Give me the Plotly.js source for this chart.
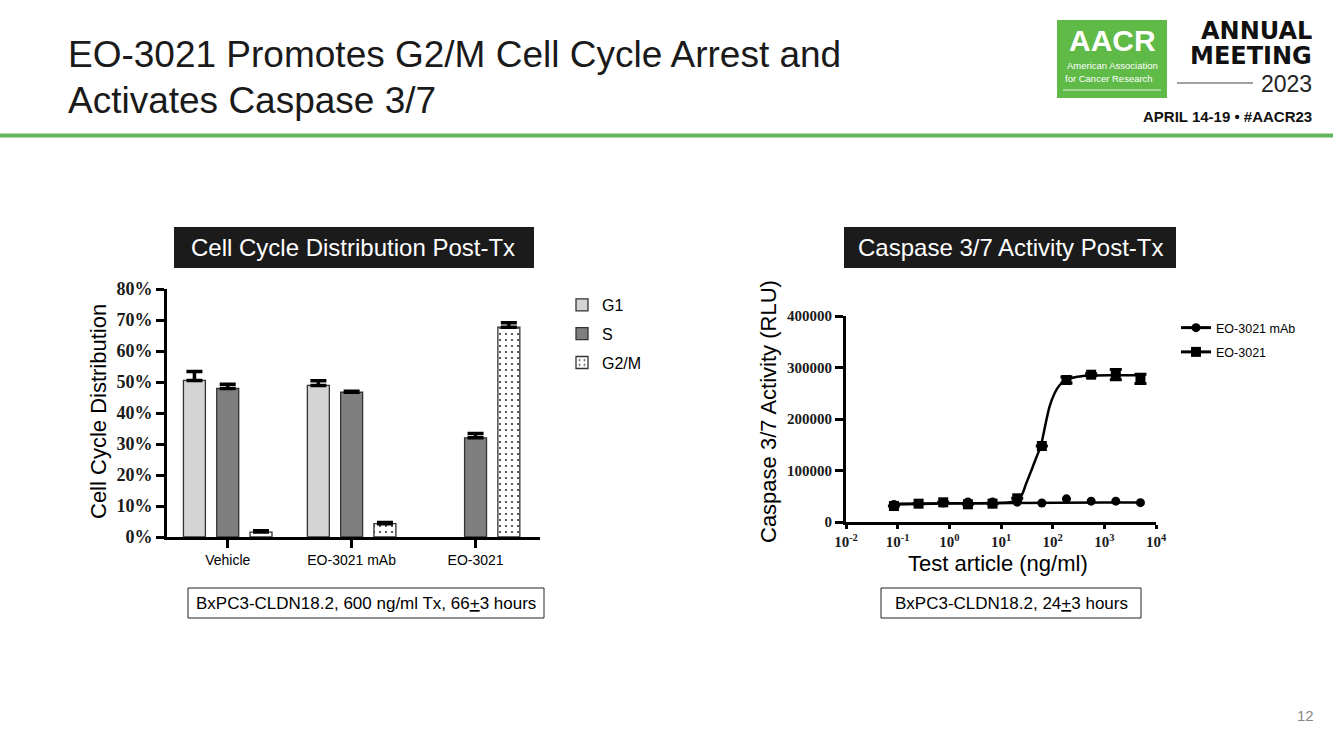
<!DOCTYPE html>
<html>
<head>
<meta charset="utf-8">
<script src="https://cdn.plot.ly/plotly-3.0.1.min.js"></script>
<style>html,body{margin:0;padding:0;background:#fff;}#chart{width:1333px;height:749px;}</style>
</head>
<body>
<div id="chart"></div>
<script>
// ---------- Data: cell cycle distribution (%) ----------
const groups = ['Vehicle', 'EO-3021 mAb', 'EO-3021'];
const g1Values = [50.5, 48.9, null];
const g1Errors = [2.9, 1.5, 0];
const sValues = [47.9, 46.7, 32.0];
const sErrors = [1.4, 0.3, 1.4];
const g2mValues = [1.6, 4.3, 67.7];
const g2mErrors = [0.4, 0.4, 1.4];

// ---------- Data: caspase 3/7 activity (RLU) ----------
const conc = [0.0847, 0.254, 0.762, 2.29, 6.86, 20.6, 61.7, 185, 556, 1667, 5000];
const mAbRLU = [34000, 35500, 37000, 39000, 39000, 38500, 37000, 45000, 40500, 40500, 37500];
const eoRLU = [31000, 35600, 38200, 34300, 35600, 46000, 147600, 275700, 286000, 286000, 277700];
const eoErr = [0, 0, 0, 0, 0, 0, 0, 6000, 2000, 10000, 9000];
// fitted curves
const mAbFitX = [0.0847, 1, 10, 100, 1000, 5000];
const mAbFitY = [35500, 36500, 37000, 37500, 38000, 38000];
const eoFitX = [0.0847, 0.254, 0.762, 2.29, 6.86, 15, 21, 26, 30, 39, 49, 59, 71, 87, 109, 137, 185, 300, 556, 1667, 5000];
const eoFitY = [34000, 35000, 36000, 36500, 37000, 38500, 42000, 55000, 72000, 101000, 127000, 148000, 185000, 224000, 250000, 266000, 276000, 282000, 284500, 285000, 285000];
const logTickVals = [0.01, 0.1, 1, 10, 100, 1000, 10000];
const logTickText = ['10<sup>-2</sup>', '10<sup>-1</sup>', '10<sup>0</sup>', '10<sup>1</sup>', '10<sup>2</sup>', '10<sup>3</sup>', '10<sup>4</sup>'];

// ---------- helpers (page pixels -> paper) ----------
const W = 1333, H = 749;
const X = p => p / W;
const Y = p => 1 - p / H;

const SANS = 'Liberation Sans, Arial, sans-serif';
const SERIF = 'Liberation Serif, Times New Roman, serif';
const barLine = {color: '#333333', width: 1.3};
const errStyle = a => ({type: 'data', array: a, arrayminus: a.map(() => 0), symmetric: false, color: '#000', thickness: 3.5, width: 8});

const traces = [
  {type: 'bar', name: 'G1', x: groups, y: g1Values, xaxis: 'x', yaxis: 'y', legend: 'legend', legendgroup: 'a',
   marker: {color: '#d4d4d4', line: barLine}, error_y: errStyle(g1Errors), hoverinfo: 'y'},
  {type: 'bar', name: 'S', x: groups, y: sValues, xaxis: 'x', yaxis: 'y', legend: 'legend', legendgroup: 'b',
   marker: {color: '#7f7f7f', line: barLine}, error_y: errStyle(sErrors), hoverinfo: 'y'},
  {type: 'bar', name: 'G2/M', x: groups, y: g2mValues, xaxis: 'x', yaxis: 'y', legend: 'legend', legendgroup: 'c',
   marker: {color: '#ffffff', line: barLine, pattern: {shape: '.', fgcolor: '#333', bgcolor: '#fff', size: 6, solidity: 0.1}},
   error_y: errStyle(g2mErrors), hoverinfo: 'y'},

  // caspase fits
  {type: 'scatter', mode: 'lines', x: mAbFitX, y: mAbFitY, xaxis: 'x2', yaxis: 'y2', showlegend: false,
   line: {color: '#000', width: 2.5}},
  {type: 'scatter', mode: 'lines', x: eoFitX, y: eoFitY, xaxis: 'x2', yaxis: 'y2', showlegend: false,
   line: {color: '#000', width: 2.5, shape: 'spline', smoothing: 0.8}},
  // caspase points
  {type: 'scatter', mode: 'markers', x: conc, y: mAbRLU, xaxis: 'x2', yaxis: 'y2', showlegend: false,
   marker: {symbol: 'circle', size: 9, color: '#000'}},
  {type: 'scatter', mode: 'markers', x: conc, y: eoRLU, xaxis: 'x2', yaxis: 'y2', showlegend: false,
   marker: {symbol: 'square', size: 10, color: '#000'},
   error_y: {type: 'data', array: eoErr, color: '#000', thickness: 3, width: 6}},
  // legend entries
  {type: 'scatter', mode: 'lines+markers', name: 'EO-3021 mAb', x: [null], y: [null], xaxis: 'x2', yaxis: 'y2',
   legend: 'legend2', legendgroup: 'm', line: {color: '#000', width: 3}, marker: {symbol: 'circle', size: 9, color: '#000'}},
  {type: 'scatter', mode: 'lines+markers', name: 'EO-3021', x: [null], y: [null], xaxis: 'x2', yaxis: 'y2',
   legend: 'legend2', legendgroup: 'e', line: {color: '#000', width: 3}, marker: {symbol: 'square', size: 10, color: '#000'}}
];

const axisCommon = {showline: true, linecolor: '#000', linewidth: 3, ticks: 'outside', tickcolor: '#000',
  tickwidth: 3, showgrid: false, zeroline: false, fixedrange: true};

function note(text, x, y, font, extra) {
  return Object.assign({text: text, x: X(x), y: Y(y), xref: 'paper', yref: 'paper', xanchor: 'center',
    yanchor: 'middle', showarrow: false, font: font}, extra || {});
}

const annotations = [
  // header title
  note('EO-3021 Promotes G2/M Cell Cycle Arrest and', 66, 55, {family: SANS, size: 37, color: '#1a1a1a'}, {xanchor: 'left'}),
  note('Activates Caspase 3/7', 66, 100, {family: SANS, size: 37, color: '#1a1a1a'}, {xanchor: 'left'}),
  // panel labels
  note('Cell Cycle Distribution Post-Tx', 353, 248, {family: SANS, size: 24, color: '#fff'}),
  note('Caspase 3/7 Activity Post-Tx', 1010, 248, {family: SANS, size: 24, color: '#fff'}),
  // axis titles
  note('Cell Cycle Distribution', 98, 412, {family: SANS, size: 22, color: '#000'}, {textangle: -90}),
  note('Caspase 3/7 Activity (RLU)', 768, 412, {family: SANS, size: 22, color: '#000'}, {textangle: -90}),
  note('Test article (ng/ml)', 998, 563, {family: SANS, size: 22, color: '#000'}),
  // condition boxes
  note('BxPC3-CLDN18.2, 600 ng/ml Tx, 66<u>+</u>3 hours', 366, 603, {family: SANS, size: 17, color: '#000'}),
  note('BxPC3-CLDN18.2, 24<u>+</u>3 hours', 1011, 603, {family: SANS, size: 17, color: '#000'}),
  // logo
  note('<b>AACR</b>', 1112, 41, {family: SANS, size: 30, color: '#fff'}),
  note('American Association', 1112, 66, {family: SANS, size: 9.5, color: '#fff'}),
  note('for Cancer Research', 1109, 78, {family: SANS, size: 9.5, color: '#fff'}),
  note('<b>ANNUAL</b>', 1314, 31, {family: 'DejaVu Sans, sans-serif', size: 24, color: '#111'}, {xanchor: 'right'}),
  note('<b>MEETING</b>', 1314, 56, {family: 'DejaVu Sans, sans-serif', size: 24, color: '#111'}, {xanchor: 'right'}),
  note('2023', 1314, 84, {family: SANS, size: 23, color: '#222'}, {xanchor: 'right'}),
  note('<b>APRIL 14-19 • #AACR23</b>', 1314, 117, {family: SANS, size: 15, color: '#111'}, {xanchor: 'right'}),
  // page number
  note('12', 1305, 715, {family: SANS, size: 15, color: '#888'})
];

const shapes = [
  {type: 'line', xref: 'paper', yref: 'paper', x0: 0, x1: 1, y0: Y(135.5), y1: Y(135.5), line: {color: '#62b55a', width: 4}},
  {type: 'rect', xref: 'paper', yref: 'paper', x0: X(174), x1: X(534), y0: Y(227), y1: Y(268), fillcolor: '#1b1b1b', line: {width: 0}, layer: 'below'},
  {type: 'rect', xref: 'paper', yref: 'paper', x0: X(844), x1: X(1176), y0: Y(227), y1: Y(268), fillcolor: '#1b1b1b', line: {width: 0}, layer: 'below'},
  {type: 'rect', xref: 'paper', yref: 'paper', x0: X(188), x1: X(544), y0: Y(588), y1: Y(618), fillcolor: 'rgba(0,0,0,0)', line: {color: '#222', width: 1}},
  {type: 'rect', xref: 'paper', yref: 'paper', x0: X(881), x1: X(1141), y0: Y(588), y1: Y(618), fillcolor: 'rgba(0,0,0,0)', line: {color: '#222', width: 1}},
  {type: 'rect', xref: 'paper', yref: 'paper', x0: X(1057), x1: X(1167), y0: Y(20), y1: Y(98), fillcolor: '#5fba47', line: {width: 0}, layer: 'below'},
  {type: 'line', xref: 'paper', yref: 'paper', x0: X(1063), x1: X(1161), y0: Y(90), y1: Y(90), line: {color: '#e8f5e3', width: 1}},
  {type: 'line', xref: 'paper', yref: 'paper', x0: X(1177), x1: X(1253), y0: Y(83), y1: Y(83), line: {color: '#444', width: 1}}
];

const layout = {
  width: W, height: H, autosize: false,
  margin: {l: 0, r: 0, t: 0, b: 0},
  paper_bgcolor: '#fff', plot_bgcolor: 'rgba(0,0,0,0)',
  font: {family: SANS, color: '#000'},
  barmode: 'group', bargap: 0.194, bargroupgap: 0.34,
  xaxis: Object.assign({}, axisCommon, {domain: [X(167), X(540)], anchor: 'y', type: 'category',
    range: [-0.49, 2.52], ticklen: 8, tickfont: {family: SANS, size: 14, color: '#000'}}),
  yaxis: Object.assign({}, axisCommon, {domain: [Y(537), Y(289)], anchor: 'x', range: [0, 80], dtick: 10,
    ticksuffix: '%', ticklen: 8, tickfont: {family: SERIF, size: 18, color: '#1a1a1a', weight: 'bold'}}),
  xaxis2: Object.assign({}, axisCommon, {domain: [X(846), X(1156)], anchor: 'y2', type: 'log', range: [-2, 4],
    tickvals: logTickVals, ticktext: logTickText, ticklen: 4, tickfont: {family: SERIF, size: 15, color: '#1a1a1a', weight: 'bold'}}),
  yaxis2: Object.assign({}, axisCommon, {domain: [Y(522), Y(316)], anchor: 'x2', range: [0, 400000], dtick: 100000,
    tickformat: 'd', ticklen: 8, tickfont: {family: SERIF, size: 15, color: '#1a1a1a', weight: 'bold'}}),
  legend: {x: X(562), y: Y(288), xanchor: 'left', yanchor: 'top', bgcolor: 'rgba(0,0,0,0)', borderwidth: 0,
    font: {family: SANS, size: 16, color: '#000'}, tracegroupgap: 5, itemclick: false, itemdoubleclick: false},
  legend2: {x: X(1176), y: Y(313), xanchor: 'left', yanchor: 'top', bgcolor: 'rgba(0,0,0,0)', borderwidth: 0,
    font: {family: SANS, size: 12.5, color: '#000'}, tracegroupgap: 5, itemclick: false, itemdoubleclick: false},
  annotations: annotations,
  shapes: shapes,
  showlegend: true
};

Plotly.newPlot('chart', traces, layout, {displayModeBar: false, staticPlot: true});
</script>
</body>
</html>
